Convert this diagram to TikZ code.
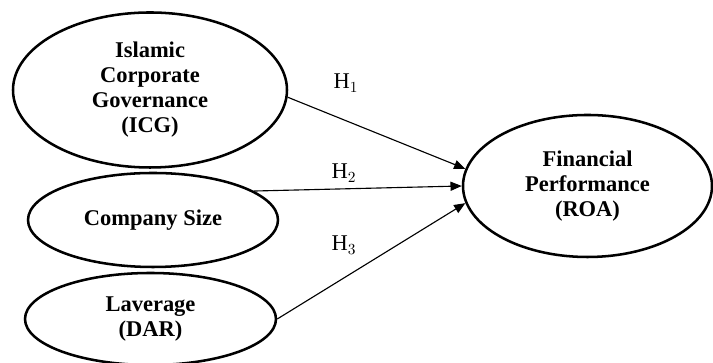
\documentclass[tikz,border=0pt]{standalone}
\usepackage{fontspec}
\setmainfont{Liberation Serif}
\usetikzlibrary{shapes.geometric,arrows.meta}

\tikzset{
  constructo/.style={ellipse, draw, line width=1.8pt, inner sep=0pt, align=center,
    font=\bfseries\fontsize{16}{17.8}\selectfont},
  hipotesis/.style={-{Triangle[length=8pt,width=6.5pt]}, line width=0.8pt},
  etiqueta/.style={font=\fontsize{16}{18}\selectfont}
}

\begin{document}
\begin{tikzpicture}
    \useasboundingbox (0, 0) rectangle (17.825, 9.075);

    % Variables independientes
    \node[constructo, minimum width=6.85cm, minimum height=3.875cm] (icg) at (3.75, 6.825)
      {Islamic\\Corporate\\Governance\\(ICG)};
    \node[constructo, minimum width=6.25cm, minimum height=2.35cm] (size) at (3.825, 3.575)
      {Company Size};
    \node[constructo, minimum width=6.275cm, minimum height=2.3cm] (dar) at (3.7625, 1.1)
      {Laverage\\(DAR)};

    % Variable dependiente
    \node[constructo, minimum width=6.225cm, minimum height=3.55cm] (roa) at (14.6875, 4.425)
      {Financial\\Performance\\(ROA)};

    % Hipotesis
    \draw[hipotesis] (icg.-3) -- (roa.172);
    \draw[hipotesis] (size.16) -- (roa.180);
    \draw[hipotesis] (dar.east) -- (roa.188);

    % Etiquetas H
    \node[etiqueta] (h1) at (8.65, 7.0) {H$_1$};
    \node[etiqueta] (h2) at (8.6, 4.75) {H$_2$};
    \node[etiqueta] (h3) at (8.6, 2.95) {H$_3$};
\end{tikzpicture}
\end{document}
